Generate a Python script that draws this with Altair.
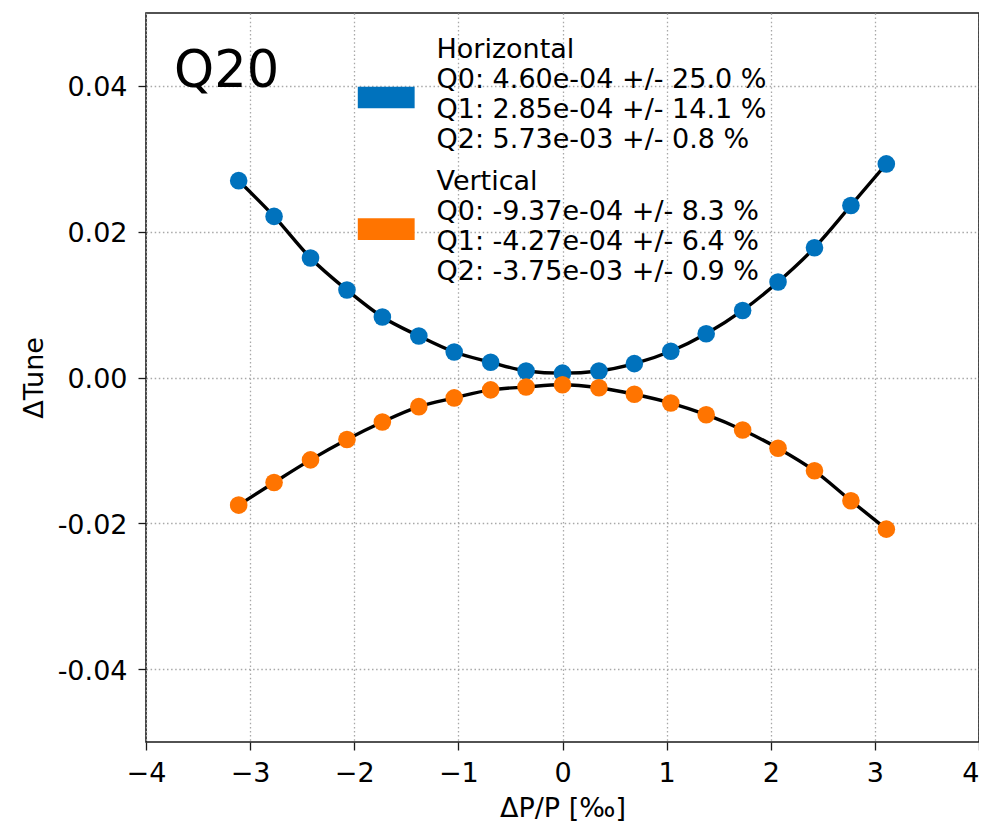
import altair as alt
import pandas as pd

# ---- data ----
dp = [-3.11, -2.77, -2.42, -2.07, -1.73, -1.38, -1.04, -0.69, -0.35, 0.0,
      0.35, 0.69, 1.04, 1.38, 1.73, 2.07, 2.42, 2.77, 3.11]
tune_h = [0.0270, 0.0221, 0.0164, 0.0120, 0.0083, 0.0057, 0.0035, 0.0021, 0.0009, 0.0006,
          0.0009, 0.0019, 0.0036, 0.0060, 0.0092, 0.0131, 0.0178, 0.0236, 0.0293]
tune_v = [-0.0175, -0.0144, -0.0113, -0.0085, -0.0061, -0.0040, -0.0028, -0.0017, -0.0013, -0.0010,
          -0.0014, -0.0023, -0.0035, -0.0051, -0.0072, -0.0097, -0.0128, -0.0169, -0.0208]
series = ["Horizontal", "Vertical"]
colors = ["#0072bd", "#ff7400"]
legend_h = ["Horizontal", "Q0: 4.60e-04 +/- 25.0 %", "Q1: 2.85e-04 +/- 14.1 %", "Q2: 5.73e-03 +/- 0.8 %"]
legend_v = ["Vertical", "Q0: -9.37e-04 +/- 8.3 %", "Q1: -4.27e-04 +/- 6.4 %", "Q2: -3.75e-03 +/- 0.9 %"]
panel_label = "Q20"
x_ticks = [-4, -3, -2, -1, 0, 1, 2, 3, 4]
y_ticks = [-0.04, -0.02, 0.0, 0.02, 0.04]

FONT = "DejaVu Sans"

df = pd.DataFrame({
    "dp": dp + dp,
    "tune": tune_h + tune_v,
    "plane": [series[0]] * len(dp) + [series[1]] * len(dp),
})

xscale = alt.Scale(domain=[-4, 4], nice=False, zero=False)
yscale = alt.Scale(domain=[-0.05, 0.05], nice=False, zero=False)
cscale = alt.Scale(domain=series, range=colors)

xenc = alt.X("dp:Q", scale=xscale,
             axis=alt.Axis(values=x_ticks, title="ΔP/P [‰]", labelFlush=False,
                           labelAlign={"condition": {"test": "datum.value >= 4", "value": "right"},
                                       "value": "center"},
                           labelExpr="replace(format(datum.value, 'd'), '-', '−')",
                           labelBaseline="alphabetic", labelPadding=31.5,
                           titleBaseline="alphabetic", titleY=74))
yenc = alt.Y("tune:Q", scale=yscale,
             axis=alt.Axis(values=y_ticks, title="ΔTune", labelFlush=False,
                           labelExpr="replace(format(datum.value, '.2f'), '−', '-')",
                           labelBaseline="alphabetic", labelOffset=10, labelPadding=11,
                           titleAngle=270, titleBaseline="alphabetic", titleAlign="center",
                           titleX=-104, titleY=364.5))

base = alt.Chart(df)
curves = base.mark_line(color="black", strokeWidth=3.4, interpolate="monotone").encode(
    x=xenc, y=yenc, detail="plane:N")
points = base.mark_circle(size=310, opacity=1).encode(
    x="dp:Q", y="tune:Q",
    color=alt.Color("plane:N", scale=cscale, legend=None))

# ---- hand-made legend (positions in data units) ----
patch_df = pd.DataFrame({
    "plane": series,
    "x0": [-1.966, -1.966], "x1": [-1.420, -1.420],
    "y0": [0.03989, 0.02184], "y1": [0.03693, 0.01886],
})
patches = alt.Chart(patch_df).mark_rect().encode(
    x="x0:Q", x2="x1:Q", y="y0:Q", y2="y1:Q",
    color=alt.Color("plane:N", scale=cscale, legend=None))

text_x = -1.21
step = 0.004115
starts = [0.04379, 0.02572]
rows = []
for block, start in zip([legend_h, legend_v], starts):
    for i, line in enumerate(block):
        rows.append({"txt": line, "tx": text_x, "ty": start - i * step})
text_df = pd.DataFrame(rows)
legend_text = alt.Chart(text_df).mark_text(
    align="left", baseline="alphabetic", font=FONT, fontSize=27, color="black").encode(
    x="tx:Q", y="ty:Q", text="txt:N")

label_df = pd.DataFrame({"txt": [panel_label], "tx": [-3.73], "ty": [0.0399]})
label = alt.Chart(label_df).mark_text(
    align="left", baseline="alphabetic", font=FONT, fontSize=51, color="black").encode(
    x="tx:Q", y="ty:Q", text="txt:N")

chart = alt.layer(curves, points, patches, legend_text, label).properties(
    width=833, height=729,
    padding={"left": 138, "top": 5, "right": 0, "bottom": 81},
    autosize=alt.AutoSizeParams(type="none"),
    background="white",
).configure_view(
    stroke="#1a1a1a", strokeWidth=1.6
).configure_axis(
    domain=False,
    grid=True, gridColor="#a8a8a8", gridDash=[1.5, 2.6], gridWidth=1.3,
    ticks=True, tickColor="#1a1a1a", tickWidth=1.3, tickSize=8,
    labelFont=FONT, labelFontSize=27, labelColor="black",
    titleFont=FONT, titleFontSize=27, titleFontWeight="normal", titleColor="black",
)

chart.save("out.html", embed_options={"renderer": "svg", "actions": False})
